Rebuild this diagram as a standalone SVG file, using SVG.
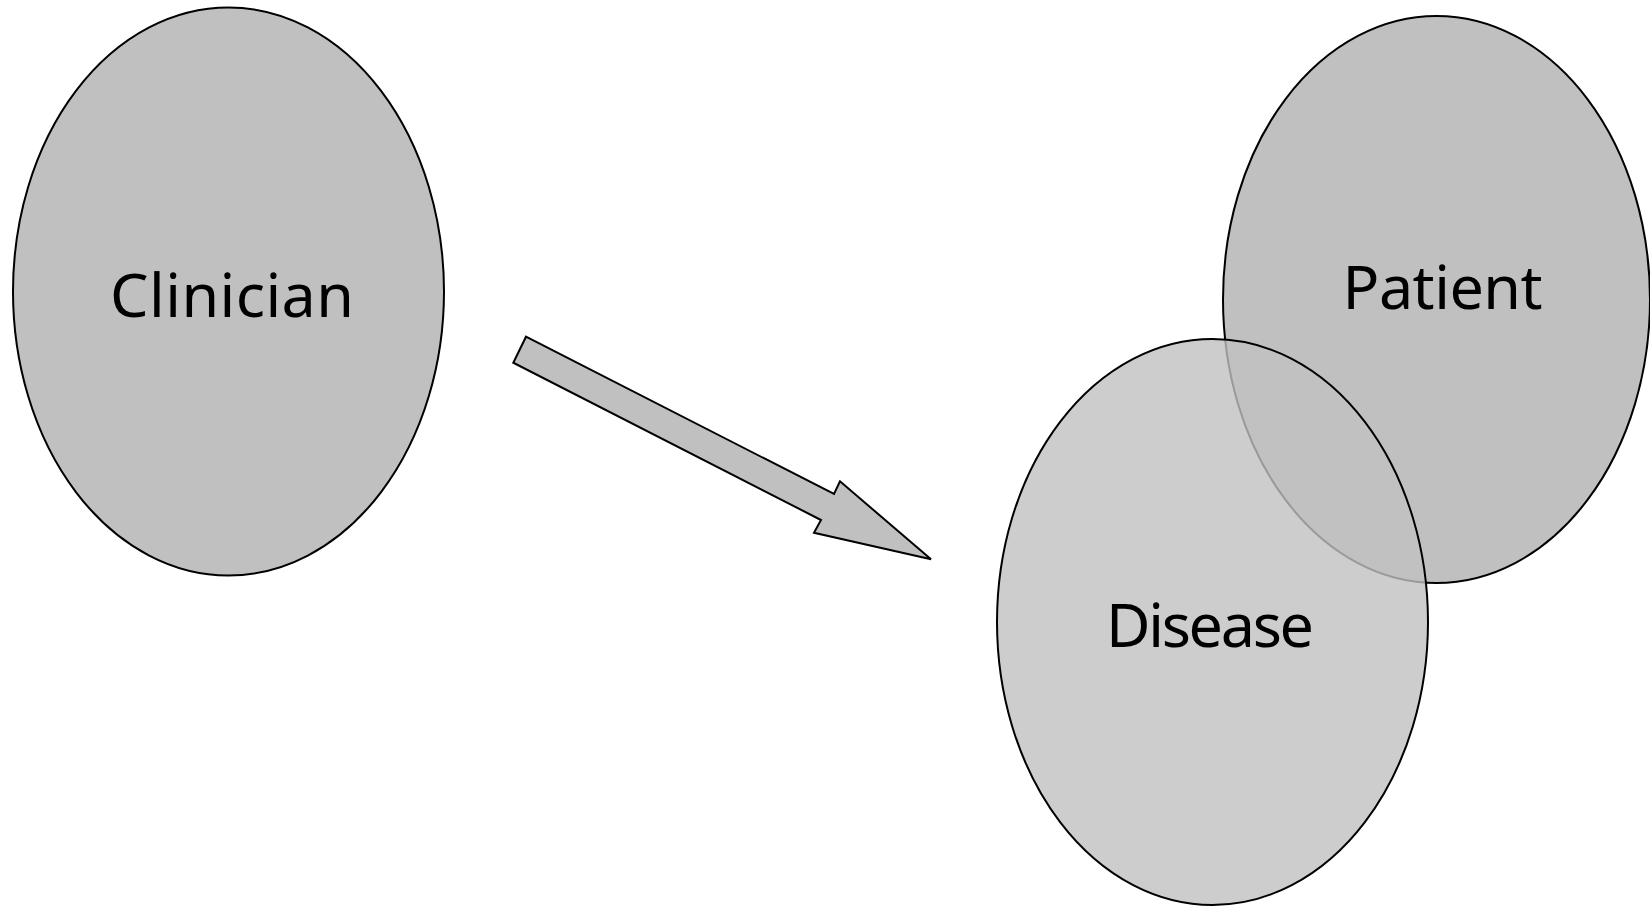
<svg xmlns="http://www.w3.org/2000/svg" width="1650" height="907" viewBox="0 0 1650 907">
<style>
.node{fill:#c0c0c0;stroke:#000;stroke-width:2}
.lbl{font-family:"Noto Sans","DejaVu Sans",sans-serif;font-size:61px;fill:#000;text-anchor:middle}
</style>
<rect width="1650" height="907" fill="#fff"/>
<g id="clinician">
<ellipse class="node" cx="228.5" cy="291.5" rx="215.5" ry="284"/>
<text class="lbl" x="232" y="316.5" textLength="244" lengthAdjust="spacing">Clinician</text>
</g>
<g id="patient">
<ellipse class="node" cx="1436.5" cy="299.5" rx="213.5" ry="283.5"/>
<text class="lbl" x="1442.5" y="309" textLength="200" lengthAdjust="spacing">Patient</text>
</g>
<g id="disease">
<ellipse class="node" cx="1212.5" cy="622" rx="215.5" ry="283" style="fill-opacity:0.8"/>
<text class="lbl" x="1210" y="647" textLength="208" lengthAdjust="spacing">Disease</text>
</g>
<g id="connectors">
<polygon points="526,336.7 834,494 840,481.3 931,559.3 814,532.7 821,520 513.3,362.7" fill="#c0c0c0" stroke="#000" stroke-width="2"/>
</g>
</svg>
